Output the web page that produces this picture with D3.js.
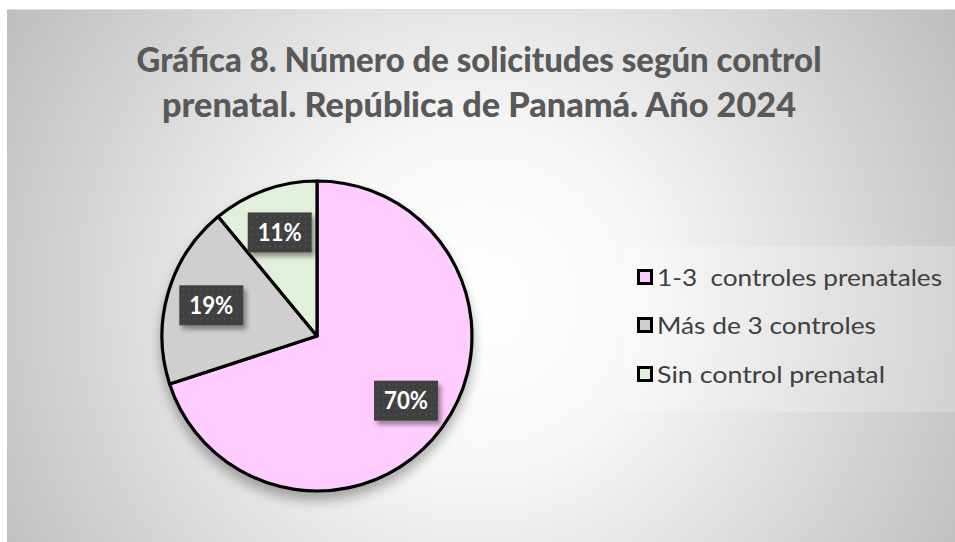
<!DOCTYPE html>
<html><head><meta charset="utf-8">
<script src="https://cdn.jsdelivr.net/npm/d3@7"></script>
<style>html,body{margin:0;padding:0;background:#fff;}svg{display:block;}</style>
</head><body>
<script>
const categories = ["1-3  controles prenatales", "Más de 3 controles", "Sin control prenatal"];
const values = [70, 19, 11];
const labels = ["70%", "19%", "11%"];
const colors = ["#FFCCFF", "#D0CECE", "#E2EFDA"];
const titleLines = ["Gráfica 8. Número de solicitudes según control", "prenatal. República de Panamá. Año 2024"];

const W = 955, H = 542;
const svg = d3.select("body").append("svg").attr("width", W).attr("height", H);
const defs = svg.append("defs");

const rg = defs.append("radialGradient").attr("id", "bg")
  .attr("gradientUnits", "userSpaceOnUse").attr("cx", 480).attr("cy", 300).attr("r", 560);
rg.append("stop").attr("offset", "0").attr("stop-color", "#ffffff");
rg.append("stop").attr("offset", "0.3").attr("stop-color", "#f7f7f7");
rg.append("stop").attr("offset", "1").attr("stop-color", "#bdbdbd");

const shadow = defs.append("filter").attr("id", "sh").attr("x", "-20%").attr("y", "-20%").attr("width", "140%").attr("height", "150%");
shadow.append("feGaussianBlur").attr("in", "SourceAlpha").attr("stdDeviation", 6).attr("result", "b");
shadow.append("feOffset").attr("in", "b").attr("dx", 0).attr("dy", 8).attr("result", "o");
shadow.append("feComponentTransfer").attr("in", "o").attr("result", "o2")
  .append("feFuncA").attr("type", "linear").attr("slope", 0.3);
const m1 = shadow.append("feMerge");
m1.append("feMergeNode").attr("in", "o2");
m1.append("feMergeNode").attr("in", "SourceGraphic");

const bsh = defs.append("filter").attr("id", "bsh").attr("x", "-30%").attr("y", "-30%").attr("width", "170%").attr("height", "180%");
bsh.append("feGaussianBlur").attr("in", "SourceAlpha").attr("stdDeviation", 2.5).attr("result", "b");
bsh.append("feOffset").attr("in", "b").attr("dx", 3).attr("dy", 4).attr("result", "o");
bsh.append("feComponentTransfer").attr("in", "o").attr("result", "o2")
  .append("feFuncA").attr("type", "linear").attr("slope", 0.4);
const m2 = bsh.append("feMerge");
m2.append("feMergeNode").attr("in", "o2");
m2.append("feMergeNode").attr("in", "SourceGraphic");

const pat = defs.append("pattern").attr("id", "dots").attr("patternUnits", "userSpaceOnUse")
  .attr("width", 6).attr("height", 6);
pat.append("rect").attr("width", 6).attr("height", 6).attr("fill", "#404040");
pat.append("rect").attr("x", 1).attr("y", 1).attr("width", 1.5).attr("height", 1.5).attr("fill", "#575757");

// background
svg.append("rect").attr("x", 7).attr("y", 9).attr("width", W - 7).attr("height", H - 9).attr("fill", "url(#bg)");
svg.append("line").attr("x1", 7).attr("x2", W).attr("y1", 9.5).attr("y2", 9.5).attr("stroke", "#e0e0e0").attr("stroke-width", 1);

// title
const title = svg.append("text").attr("text-anchor", "middle")
  .attr("font-family", "Lato, 'Open Sans', sans-serif").attr("font-weight", "900")
  .attr("font-size", 35).attr("fill", "#595959");
const tw = [685, 634];
titleLines.forEach((t, i) => {
  title.append("tspan").attr("x", 479).attr("y", 72 + i * 45)
    .attr("textLength", tw[i]).attr("lengthAdjust", "spacingAndGlyphs").text(t);
});

// pie
const cx = 317, cy = 336, R = 155;
const pie = d3.pie().sort(null).value(d => d)(values);
const arc = d3.arc().innerRadius(0).outerRadius(R);
const labelArc = d3.arc().innerRadius(R * 0.71).outerRadius(R * 0.71);
const g = svg.append("g").attr("transform", `translate(${cx},${cy})`);
const slices = g.append("g").attr("filter", "url(#sh)");
slices.selectAll("path").data(pie).join("path")
  .attr("d", arc).attr("fill", (d, i) => colors[i])
  .attr("stroke", "#000").attr("stroke-width", 3.2).attr("stroke-linejoin", "round");

const lab = g.selectAll("g.lab").data(pie).join("g").attr("class", "lab")
  .attr("transform", d => { const c = labelArc.centroid(d); return `translate(${c[0]},${c[1]})`; });
lab.append("rect").attr("x", -32).attr("y", -20).attr("width", 64).attr("height", 40)
  .attr("fill", "url(#dots)").attr("filter", "url(#bsh)");
lab.append("text").attr("text-anchor", "middle").attr("dy", "0.36em")
  .attr("font-family", "Lato, 'Open Sans', sans-serif").attr("font-weight", "bold")
  .attr("font-size", 24).attr("fill", "#ffffff")
  .attr("textLength", 44).attr("lengthAdjust", "spacingAndGlyphs")
  .text((d, i) => labels[i]);

// legend
svg.append("rect").attr("x", 625).attr("y", 246).attr("width", W - 625).attr("height", 166)
  .attr("fill", "#ffffff").attr("opacity", 0.2);
const legY = [277, 325, 374];
const lw = [285, 219, 228];
const leg = svg.append("g");
categories.forEach((c, i) => {
  const row = leg.append("g").attr("transform", `translate(0,${legY[i]})`);
  row.append("rect").attr("x", 638.5).attr("y", -6.5).attr("width", 13).attr("height", 13)
    .attr("fill", colors[i]).attr("stroke", "#000").attr("stroke-width", 3);
  row.append("text").attr("x", 657).attr("dy", "0.36em")
    .attr("font-family", "Lato, 'Open Sans', sans-serif").attr("font-size", 24)
    .attr("fill", "#404040").attr("xml:space", "preserve").style("white-space", "pre")
    .attr("textLength", lw[i]).attr("lengthAdjust", "spacingAndGlyphs").text(c);
});
</script>
</body></html>
